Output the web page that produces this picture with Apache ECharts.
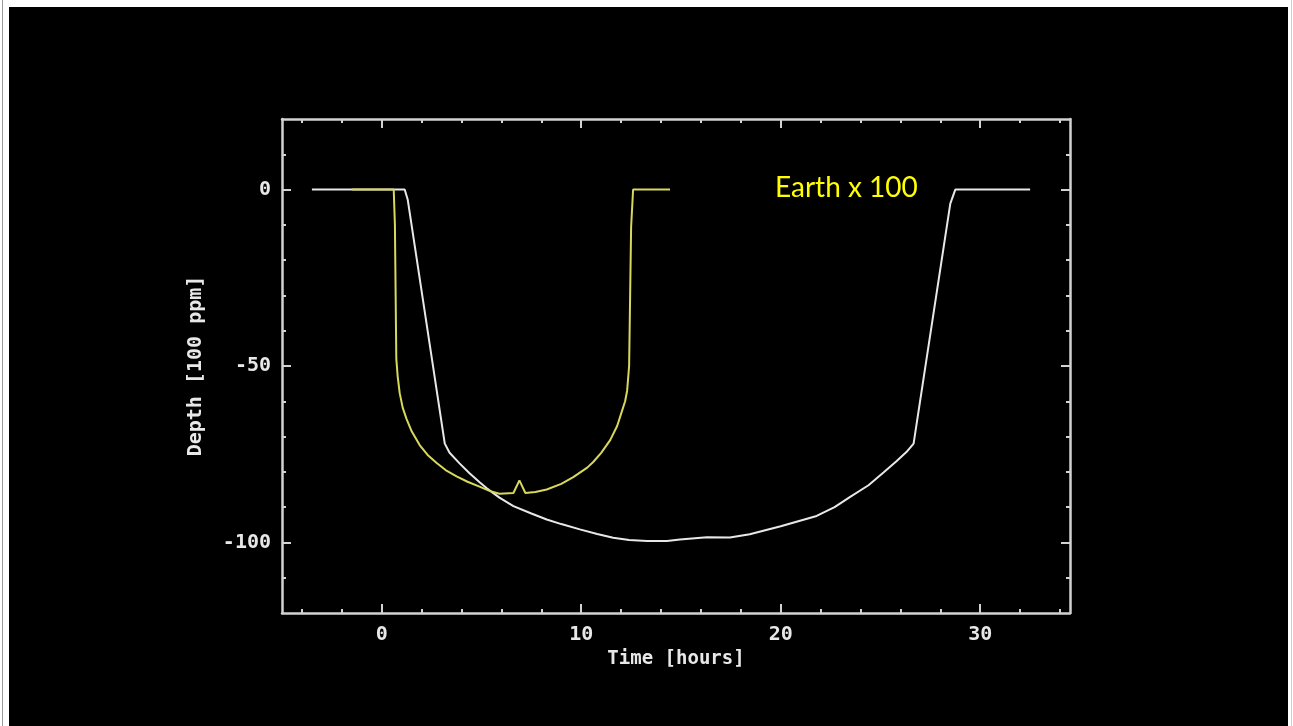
<!DOCTYPE html>
<html>
<head>
<meta charset="utf-8">
<script src="https://cdn.jsdelivr.net/npm/echarts@6/dist/echarts.min.js"></script>
<style>
html,body{margin:0;padding:0;background:#fff;}
#chart{width:1293px;height:726px;}
</style>
</head>
<body>
<div id="chart"></div>
<script>
// Time (hours) and depth (100 ppm) of the large planet transit (white)
var whiteTime  = [-3.5, 1.15, 1.3, 3.16, 3.4, 3.9, 4.4, 4.92, 5.25, 5.9, 6.6, 7.5, 8.27, 9.0, 9.93, 10.8, 11.6, 12.4, 13.3, 14.3, 14.95, 16.3, 17.45, 18.45, 20.0, 21.8, 22.7, 23.5, 24.4, 25.15, 25.8, 26.3, 26.66, 28.5, 28.75, 32.5];
var whiteDepth = [0, 0, -2.8, -72, -74.6, -77.6, -80.4, -83, -84.6, -87.3, -89.7, -91.8, -93.5, -94.8, -96.3, -97.6, -98.7, -99.3, -99.6, -99.6, -99.2, -98.5, -98.6, -97.7, -95.4, -92.5, -90, -87, -83.8, -80.2, -77, -74.4, -72, -4, 0, 0];
// Earth x 100 transit (yellow)
var yellowTime  = [-1.5, 0.6, 0.66, 0.73, 0.8, 0.9, 1.05, 1.24, 1.5, 1.9, 2.3, 2.74, 3.2, 3.75, 4.3, 4.9, 5.4, 5.9, 6.6, 6.9, 7.2, 7.7, 8.27, 9.0, 9.6, 10.3, 10.6, 11.0, 11.45, 11.8, 12.0, 12.2, 12.3, 12.4, 12.5, 12.6, 14.45];
var yellowDepth = [0, 0, -10, -48, -53, -57.7, -61.8, -65, -68.5, -72.4, -75.2, -77.4, -79.5, -81.3, -82.8, -84.2, -85.4, -86.2, -86, -82.4, -86, -85.7, -85, -83.4, -81.5, -78.8, -77.2, -74.6, -71, -67, -63.5, -60, -57, -50, -10.6, 0, 0];
// Tick values
var xMajor = [0, 10, 20, 30];
var xMinor = [-4, -2, 0, 2, 4, 6, 8, 10, 12, 14, 16, 18, 20, 22, 24, 26, 28, 30, 32, 34];
var yMajor = [-100, -50, 0];
var yMinor = [-110, -100, -90, -80, -70, -60, -50, -40, -30, -20, -10, 0, 10];
var labelText = 'Earth x 100';

function pairs(xs, ys){ return xs.map(function(x,i){ return [x, ys[i]]; }); }

var axisColor = '#d2d2d2';
var mono = '"DejaVu Sans Mono", monospace';
var lab = {color:'#e8e8e8', fontFamily:mono, fontWeight:'bold', fontSize:20};

function xAx(pos, ticks, len, showLine, showLabel){
  return {
    type:'value', position:pos, min:-5, max:34.5,
    axisLine:{show:showLine, onZero:false, lineStyle:{color:axisColor, width:2.5}},
    axisTick:{show:true, inside:true, length:len, customValues:ticks, lineStyle:{color:axisColor, width:2}},
    axisLabel:showLabel ? Object.assign({show:true, customValues:xMajor, margin:12}, lab) : {show:false},
    splitLine:{show:false}
  };
}
function yAx(pos, ticks, len, showLine, showLabel){
  return {
    type:'value', position:pos, min:-120, max:20,
    axisLine:{show:showLine, onZero:false, lineStyle:{color:axisColor, width:2.5}},
    axisTick:{show:true, inside:true, length:len, customValues:ticks, lineStyle:{color:axisColor, width:2}},
    axisLabel:showLabel ? Object.assign({show:true, customValues:yMajor, margin:11, formatter:function(v){return String(v);}}, lab) : {show:false},
    splitLine:{show:false}
  };
}

var xAxes = [xAx('bottom', xMinor, 4, true, true), xAx('bottom', xMajor, 9, false, false), xAx('top', xMinor, 4, true, false), xAx('top', xMajor, 9, false, false)];
xAxes[0].name = 'Time [hours]';
xAxes[0].nameLocation = 'middle';
xAxes[0].nameGap = 30;
xAxes[0].nameTextStyle = {color:'#e8e8e8', fontFamily:mono, fontWeight:'bold', fontSize:19};

var yAxes = [yAx('left', yMinor, 4, true, true), yAx('left', yMajor, 9, false, false), yAx('right', yMinor, 4, true, false), yAx('right', yMajor, 9, false, false)];
yAxes[0].name = 'Depth [100 ppm]';
yAxes[0].nameLocation = 'middle';
yAxes[0].nameGap = 76;
yAxes[0].nameTextStyle = {color:'#e8e8e8', fontFamily:mono, fontWeight:'bold', fontSize:20};

var chart = echarts.init(document.getElementById('chart'), null, {renderer:'canvas'});
chart.setOption({
  backgroundColor:'#ffffff',
  animation:false,
  graphic:[
    {type:'rect', z:-10, shape:{x:9, y:7, width:1279, height:719}, style:{fill:'#000'}},
    {type:'rect', z:-10, shape:{x:2, y:0, width:1, height:726}, style:{fill:'#9a9a9a'}},
    {type:'rect', z:-10, shape:{x:1291, y:0, width:1, height:726}, style:{fill:'#cfcfcf'}},
    {type:'text', left:775, top:174, z:100, style:{text:labelText, fill:'#ffff00', font:'28px Lato, "Open Sans", sans-serif'}}
  ],
  grid:{left:282, right:223, top:119, bottom:113, containLabel:false},
  xAxis:xAxes,
  yAxis:yAxes,
  series:[
    {type:'line', xAxisIndex:0, yAxisIndex:0, data:pairs(whiteTime, whiteDepth), showSymbol:false, symbol:'none',
     lineStyle:{color:'#e8e8e8', width:2}, z:2},
    {type:'line', xAxisIndex:0, yAxisIndex:0, data:pairs(yellowTime, yellowDepth), showSymbol:false, symbol:'none',
     lineStyle:{color:'#d8d85c', width:2}, z:3}
  ]
});
</script>
</body>
</html>
